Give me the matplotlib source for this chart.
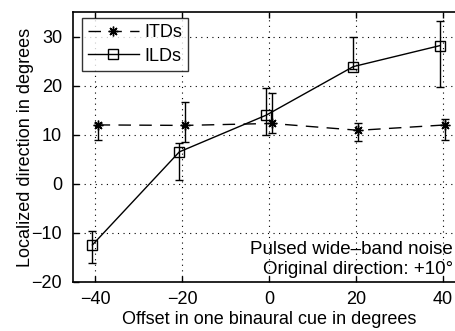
import matplotlib
matplotlib.use("Agg")
import matplotlib.pyplot as plt
from matplotlib.lines import Line2D
import numpy as np

plt.rcParams['font.family'] = ['Liberation Sans', 'DejaVu Sans']

offsets = [-40, -20, 0, 20, 40]
itd_mean = [12.0, 11.9, 12.3, 10.9, 12.0]
itd_low = [9.0, 8.6, 10.3, 8.8, 8.9]
itd_high = [12.3, 16.7, 18.6, 12.3, 13.3]
ild_mean = [-12.5, 6.5, 14.0, 23.9, 28.2]
ild_low = [-16.2, 0.7, 10.0, 23.4, 19.8]
ild_high = [-9.6, 8.3, 19.5, 29.9, 33.2]
xticks = [-40, -20, 0, 20, 40]
yticks = [-20, -10, 0, 10, 20, 30]

dodge = 0.6
FS = 13

fig = plt.figure(figsize=(4.56, 3.31), dpi=100)
ax = fig.add_axes([0.1607, 0.149, 0.858, 0.814])

x = np.array(offsets, dtype=float)
im = np.array(itd_mean); lm = np.array(ild_mean)
itd_err = [im - np.array(itd_low), np.array(itd_high) - im]
ild_err = [lm - np.array(ild_low), np.array(ild_high) - lm]

star = (8, 2, 0)
dash = (0, (9, 6))
ax.errorbar(x + dodge, im, yerr=itd_err, color='black', ls=dash, lw=1.0,
            marker=star, ms=7, mew=1.0, capsize=3, elinewidth=1.0)
ax.errorbar(x - dodge, lm, yerr=ild_err, color='black', ls='-', lw=1.0,
            marker='s', ms=7, mfc='none', mew=1.0, capsize=3, elinewidth=1.0)

ax.set_xlim(-45, 45)
ax.set_ylim(-20, 35)
ax.set_xticks(xticks)
ax.set_yticks(yticks)
ax.set_xticklabels(['\u221240', '\u221220', '0', '20', '40'])
ax.set_yticklabels(['\u221220', '\u221210', '0', '10', '20', '30'])
ax.grid(True, ls=(0, (1, 4)), color='black', lw=0.8)
ax.tick_params(direction='in', top=True, right=True, length=4, labelsize=FS, width=1)
ax.tick_params(axis='x', pad=7)
ax.tick_params(axis='y', pad=8)
for s in ax.spines.values():
    s.set_linewidth(1.2)

ax.set_xlabel('Offset in one binaural cue in degrees', fontsize=FS, labelpad=2)
ax.set_ylabel('Localized direction in degrees', fontsize=FS, labelpad=-2)

handles = [Line2D([], [], color='black', ls=dash, lw=1.0, marker=star, ms=7, mew=1.0),
           Line2D([], [], color='black', ls='-', lw=1.0, marker='s', ms=7, mfc='none', mew=1.0)]
leg = ax.legend(handles, ['ITDs', 'ILDs'], loc='upper left', bbox_to_anchor=(0.022, 0.979),
                fontsize=FS, frameon=True, fancybox=False,
                edgecolor='black', handlelength=2.8, borderaxespad=0,
                handletextpad=0.3, borderpad=0.35, labelspacing=0.35)
leg.get_frame().set_linewidth(1.0)

fig.text(453/456, 1 - 250/331, 'Pulsed wide\u2013band noise', ha='right', va='center', fontsize=13.5)
fig.text(453/456, 1 - 270/331, 'Original direction: +10\u00b0', ha='right', va='center', fontsize=13.5)

fig.savefig('out.png', dpi=100)
